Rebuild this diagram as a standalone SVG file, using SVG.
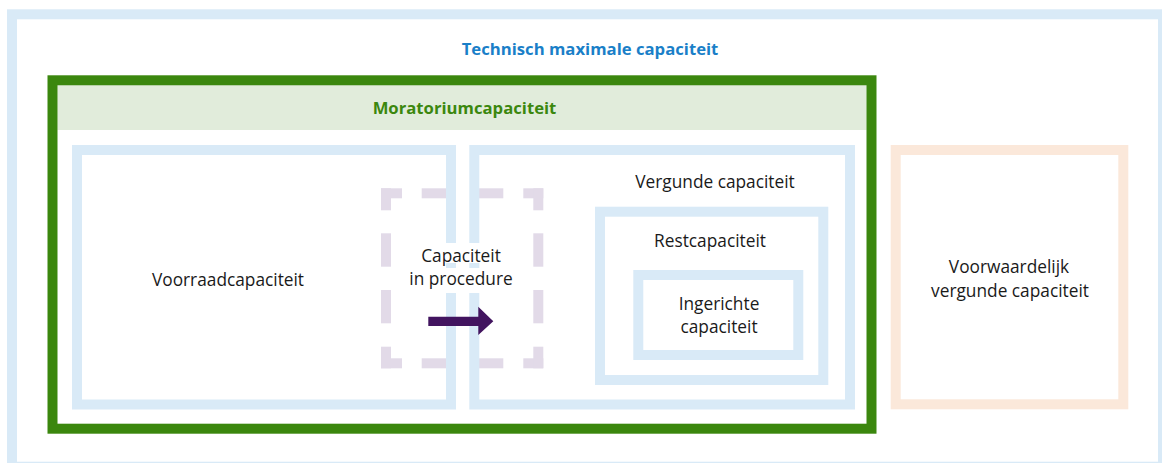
<svg xmlns="http://www.w3.org/2000/svg" width="1162" height="463" viewBox="0 0 1162 463">
<style>
.bl{fill:none;stroke:#d9eaf7;stroke-width:10}
.t{font-family:"Open Sans","Liberation Sans",sans-serif;font-size:17.3px;fill:#1a1a1a;text-anchor:middle}
.h{font-family:"Open Sans","Liberation Sans",sans-serif;font-size:16.7px;font-weight:bold;text-anchor:middle}
.d{fill:#e2dae8}
</style>
<rect width="1162" height="463" fill="#fff"/>
<g id="technisch">
<rect x="12" y="14.3" width="1151" height="452.4" class="bl"/>
<text x="590" y="55" class="h" fill="#1a7fc8">Technisch maximale capaciteit</text>
</g>
<g id="moratorium">
<rect x="57.3" y="85.3" width="809.4" height="44.7" fill="#e1ecdb"/>
<rect x="52.5" y="80.3" width="819" height="348.4" fill="none" stroke="#3b870e" stroke-width="10"/>
<text x="464.5" y="114.3" class="h" fill="#3b870e">Moratoriumcapaciteit</text>
</g>
<g id="procedure">
<rect class="d" x="381" y="188.3" width="21" height="10"/>
<rect class="d" x="381" y="188.3" width="10" height="22"/>
<rect class="d" x="421.7" y="188.3" width="30" height="10"/>
<rect class="d" x="471.7" y="188.3" width="31.6" height="10"/>
<rect class="d" x="523.3" y="188.3" width="20" height="10"/>
<rect class="d" x="533.3" y="188.3" width="10" height="22"/>
<rect class="d" x="381" y="233.3" width="10" height="33.4"/>
<rect class="d" x="381" y="290" width="10" height="33.3"/>
<rect class="d" x="533.3" y="233.3" width="10" height="33.4"/>
<rect class="d" x="533.3" y="290" width="10" height="33.3"/>
<rect class="d" x="381" y="358.3" width="21" height="10"/>
<rect class="d" x="381" y="346.7" width="10" height="21.6"/>
<rect class="d" x="421.7" y="358.3" width="30" height="10"/>
<rect class="d" x="471.7" y="358.3" width="31.6" height="10"/>
<rect class="d" x="523.3" y="358.3" width="20" height="10"/>
<rect class="d" x="533.3" y="346.7" width="10" height="21.6"/>
</g>
<g id="voorraad">
<rect x="77" y="150" width="374" height="254.5" class="bl"/>
<text x="228" y="286" class="t">Voorraadcapaciteit</text>
</g>
<g id="vergunde">
<rect x="474.3" y="150" width="375.7" height="254.5" class="bl"/>
<text x="715" y="188" class="t">Vergunde capaciteit</text>
</g>
<g id="rest">
<rect x="600" y="211.7" width="223.3" height="168.3" class="bl"/>
<text x="710" y="246.7" class="t">Restcapaciteit</text>
</g>
<g id="ingericht">
<rect x="638.3" y="275" width="160" height="80" class="bl"/>
<text x="719" y="310" class="t">Ingerichte</text>
<text x="719" y="333.3" class="t">capaciteit</text>
</g>
<g id="procedure-label">
<rect x="440" y="243" width="45" height="20" fill="#fff"/>
<rect x="440" y="268" width="45" height="25" fill="#fff"/>
<text x="461" y="261.7" class="t">Capaciteit</text>
<text x="461" y="285" class="t">in procedure</text>
</g>
<g id="voorwaardelijk">
<rect x="895.7" y="150" width="227.6" height="254.3" fill="none" stroke="#fbe8da" stroke-width="10"/>
<text x="1009" y="273.3" class="t">Voorwaardelijk</text>
<text x="1010" y="296.7" class="t">vergunde capaciteit</text>
</g>
<g id="connectors">
<path d="M428.3,316.7 H478.3 V306.7 L493.3,321.3 L478.3,335 V326 H428.3 Z" fill="#42145f"/>
</g>
</svg>
